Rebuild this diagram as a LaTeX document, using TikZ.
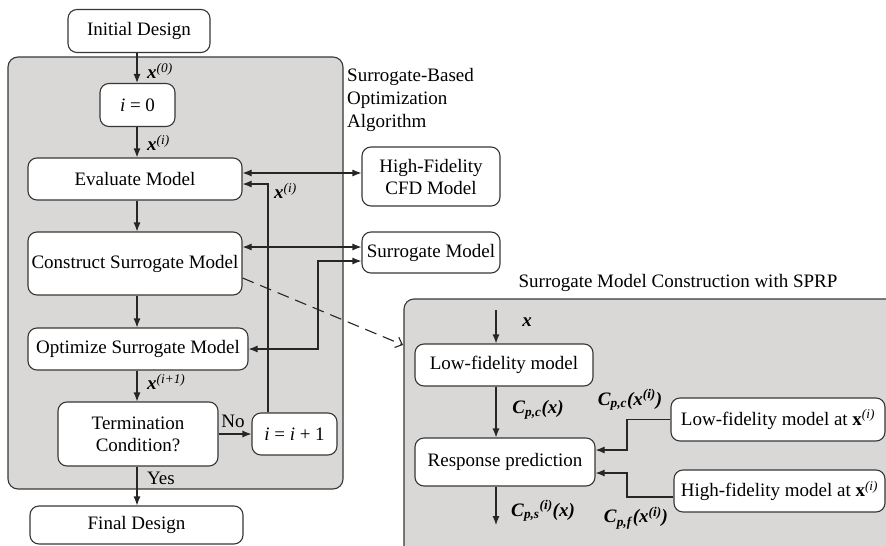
\documentclass[tikz,border=0pt]{standalone}
\usepackage{fontspec}
\setmainfont{Liberation Serif}
\usetikzlibrary{arrows.meta}
\definecolor{panel}{RGB}{218,216,214}
\definecolor{edge}{RGB}{55,55,55}
\newcommand{\bx}{\textbf{\textit{x}}}
\newcommand{\Cb}{\textbf{\textit{C}}}
\newcommand{\sx}[1]{\textsuperscript{\textit{#1}}}
\begin{document}
\begin{tikzpicture}[x=1pt,y=-1pt, font=\fontsize{19}{22}\selectfont,
  box/.style={draw=edge, fill=white, line width=1.1pt, rounded corners=9pt, align=center, inner sep=2pt},
  panelbox/.style={draw=edge, fill=panel, line width=1.1pt, rounded corners=10pt},
  arr/.style={draw=black!85, line width=1.1pt, -{Latex[length=9pt,width=7pt]}},
  darr/.style={draw=black!85, line width=1.1pt, {Latex[length=9pt,width=7pt]}-{Latex[length=9pt,width=7pt]}},
  dsh/.style={draw=black!85, line width=1.1pt, dash pattern=on 12pt off 7pt, -{Straight Barb[length=6pt,width=11pt]}},
  lbl/.style={inner sep=0pt}]
\useasboundingbox (0,0) rectangle (886,546);
\begin{scope}
  \clip (0,0) rectangle (886,546);
  \draw[panelbox] (8,57) rectangle (343,489);
  \draw[panelbox] (404,299) rectangle (905,570);
\end{scope}

% left column
\node[box, minimum width=142pt, minimum height=43pt] (init) at (139,31) {Initial Design};
\node[box, minimum width=75pt, minimum height=43pt] (i0) at (137.5,105) {\textit{i} = 0};
\node[box, minimum width=214pt, minimum height=42pt] (eval) at (135,179) {Evaluate Model};
\node[box, minimum width=214pt, minimum height=63pt] (cons) at (135,263.5) {Construct Surrogate Model};
\node[box, minimum width=220pt, minimum height=42pt] (opt) at (138,349) {Optimize Surrogate Model};
\node[box, minimum width=160pt, minimum height=64pt] (term) at (138,434) {Termination\\Condition?};
\node[box, minimum width=85pt, minimum height=42pt] (inc) at (294.5,434) {\textit{i} = \textit{i} + 1};
\node[box, minimum width=213pt, minimum height=38pt] (final) at (136.5,525) {Final Design};

\node[box, minimum width=138pt, minimum height=59pt] (hf) at (431,176.5) {High-Fidelity\\CFD Model};
\node[box, minimum width=138pt, minimum height=41pt] (sm) at (431,252.5) {Surrogate Model};

\node[lbl, anchor=north west, align=left, font=\fontsize{19}{23}\selectfont] (title1) at (347,68) {Surrogate-Based\\Optimization\\Algorithm};

\coordinate (spine) at (137,0);
\coordinate (yhf) at (0,173);
\coordinate (yev) at (0,184);
\coordinate (xup) at (268,0);
\coordinate (ysm) at (0,247);
\coordinate (ysm2) at (0,261);
\coordinate (xsm) at (318,0);
\coordinate (yds) at (0,278);
\coordinate (dshend) at (403,345);

\draw[arr] (init.south -| spine) -- (i0.north -| spine);
\draw[arr] (i0.south -| spine) -- (eval.north -| spine);
\draw[arr] (eval.south -| spine) -- (cons.north -| spine);
\draw[arr] (cons.south -| spine) -- (opt.north -| spine);
\draw[arr] (opt.south -| spine) -- (term.north -| spine);
\draw[arr] (term.south -| spine) -- (final.north -| spine);
\draw[arr] (term.east) -- (inc.west);
\draw[arr] (inc.north -| xup) -- (xup |- yev) -- (eval.east |- yev);
\draw[darr] (eval.east |- yhf) -- (hf.west |- yhf);
\draw[darr] (cons.east |- ysm) -- (sm.west |- ysm);
\draw[darr] (opt.east) -- (xsm |- opt.east) -- (xsm |- ysm2) -- (sm.west |- ysm2);
\draw[dsh] (cons.east |- yds) -- (dshend);

\node[lbl, anchor=west] (l0) at (147,71) {\bx\sx{(0)}};
\node[lbl, anchor=west] (l1) at (147,143) {\bx\sx{(i)}};
\node[lbl, anchor=west] (l2) at (274,191) {\bx\sx{(i)}};
\node[lbl, anchor=west] (l3) at (147,382) {\bx\sx{(i+1)}};
\node[lbl] (lno) at (233,421) {No};
\node[lbl] (lyes) at (161,478) {Yes};

% right panel
\node[lbl] (sprp) at (678,283) {Surrogate Model Construction with SPRP};
\node[box, minimum width=178pt, minimum height=42pt] (lf) at (504,365) {Low-fidelity model};
\node[box, minimum width=180pt, minimum height=48pt] (rp) at (505,462) {Response prediction};
\node[box, minimum width=214pt, minimum height=43pt] (lfx) at (778,419.5) {Low-fidelity model at \textbf{x}\sx{(i)}};
\node[box, minimum width=211pt, minimum height=42pt] (hfx) at (779.5,491) {High-fidelity model at \textbf{x}\sx{(i)}};

\coordinate (xin) at (496,310);
\coordinate (xout) at (496,525);
\coordinate (xj) at (627,0);
\coordinate (ya) at (0,450);
\coordinate (yb) at (0,473);
\coordinate (yh) at (0,497);

\draw[arr] (xin) -- (lf.north -| xin);
\draw[arr] (lf.south -| xin) -- (rp.north -| xin);
\draw[arr] (rp.south -| xin) -- (xout);
\draw[arr] (lfx.west) -- (xj |- lfx.west) -- (xj |- ya) -- (rp.east |- ya);
\draw[arr] (hfx.west |- yh) -- (xj |- yh) -- (xj |- yb) -- (rp.east |- yb);

\node[lbl] (lx) at (527,322) {\bx};
\node[lbl] (lcpc) at (538,410) {\Cb\textsubscript{\textbf{\textit{p,c}}}\textbf{\textit{(x)}}};
\node[lbl] (lcpcx) at (630,400) {\Cb\textsubscript{\textbf{\textit{p,c}}}\textbf{\textit{(x}}\textsuperscript{\textbf{\textit{(i)}}}\textbf{\textit{)}}};
\node[lbl] (lcps) at (543,511) {\Cb\textsubscript{\textbf{\textit{p,s}}}\textsuperscript{\textbf{\textit{(i)}}}\textbf{\textit{(x)}}};
\node[lbl] (lcpf) at (636,518) {\Cb\textsubscript{\textbf{\textit{p,f}}}\textbf{\textit{(x}}\textsuperscript{\textbf{\textit{(i)}}}\textbf{\textit{)}}};
\end{tikzpicture}
\end{document}
